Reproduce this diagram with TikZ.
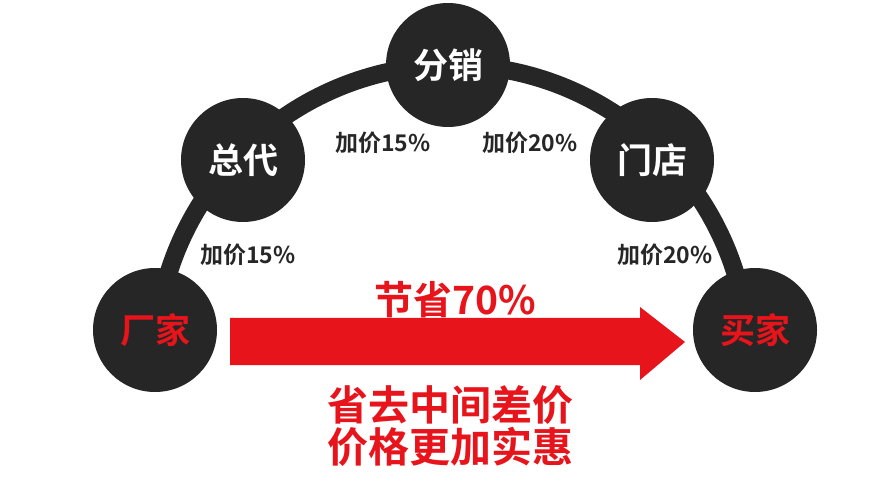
\documentclass[tikz,border=0pt]{standalone}
\usepackage{fontspec}
\newfontfamily\cjk{Noto Sans CJK SC}[BoldFont={Noto Sans CJK SC Bold}]
\begin{document}
\begin{tikzpicture}[x=1pt,y=1pt,
  ball/.style={circle,fill=black!85,minimum size=124pt,inner sep=0pt,font=\cjk\bfseries\fontsize{35}{35}\selectfont},
  lbl/.style={font=\cjk\bfseries\fontsize{23}{23}\selectfont,text=black!85},
  red/.style={font=\cjk\bfseries\fontsize{41}{42}\selectfont,text=redc,align=center}]
\definecolor{redc}{HTML}{E8141B}
\fill[white] (0,0) rectangle (880,490);
\coordinate (arcstart) at (156.6,159);
\draw[line width=18pt,black!85] (arcstart) arc[start angle=174,end angle=6,radius=297];
\node[ball,text=redc] (f) at (155,160) {厂家};
\node[ball,text=white] (z) at (243,330) {总代};
\node[ball,text=white] (d) at (448,425) {分销};
\node[ball,text=white] (m) at (652,330) {门店};
\node[ball,text=redc] (b) at (755,160) {买家};
\node[lbl] (l1) at (248,235) {加价15\%};
\node[lbl] (l2) at (383,347) {加价15\%};
\node[lbl] (l3) at (530,347) {加价20\%};
\node[lbl] (l4) at (665,235) {加价20\%};
\fill[redc] (230,125) -- (640,125) -- (640,110) -- (685,148) -- (640,183) -- (640,172) -- (230,172) -- cycle;
\node[red,font=\cjk\bfseries\fontsize{39}{39}\selectfont] (s) at (455,190) {节省70\%};
\node[red] (t) at (450,64) {省去中间差价\\价格更加实惠};
\end{tikzpicture}
\end{document}
